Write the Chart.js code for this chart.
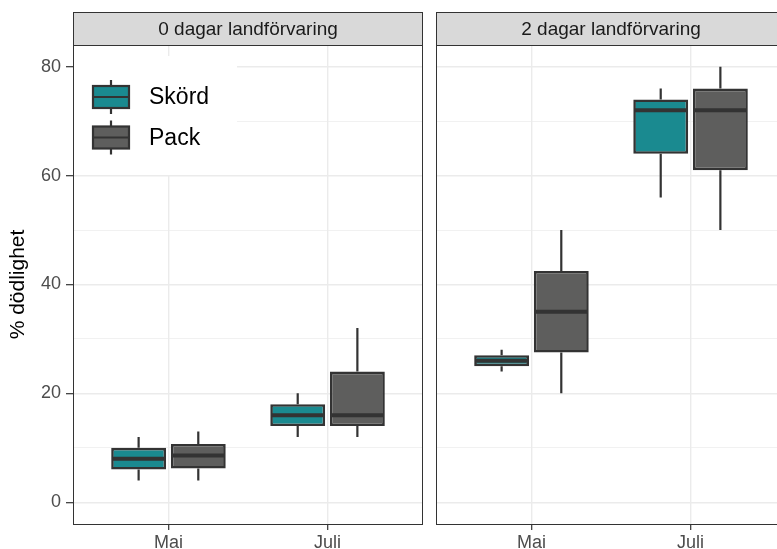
<!DOCTYPE html>
<html>
<head>
<meta charset="utf-8">
<script src="https://cdn.jsdelivr.net/npm/chart.js@4"></script>
<style>
  html, body { margin: 0; padding: 0; background: #fff; overflow: hidden; }
  #wrap { position: relative; width: 777px; height: 549px; overflow: hidden; }
  canvas { position: absolute; top: 0; }
  #left { left: 0; }
  #right { left: 430px; }
</style>
</head>
<body>
<div id="wrap">
  <canvas id="left" width="430" height="549"></canvas>
  <canvas id="right" width="360" height="549"></canvas>
</div>
<script>
const months = ['Mai', 'Juli'];
const panelTitles = ['0 dagar landförvaring', '2 dagar landförvaring'];
const seriesNames = ['Skörd', 'Pack'];
const seriesColors = ['#1A8A90', '#5E5E5D'];
const yTicks = [0, 20, 40, 60, 80];
const yMinor = [10, 30, 50, 70];

// [min, q1, median, q3, max] för Mai och Juli
const skord0 = [[4, 6, 8, 10, 12], [12, 14, 16, 18, 20]];
const pack0 = [[4, 6.2, 8.6, 10.7, 13], [12, 14, 16, 24, 32]];
const skord2 = [[24, 25, 26, 27, 28], [56, 64, 72, 74, 76]];
const pack2 = [[20, 27.5, 35, 42.5, 50], [50, 61, 72, 76, 80]];

const FONT = '"Liberation Sans", Arial, sans-serif';

// ramen runt panelen och den grå rubrikremsan
const panelPlugin = {
    id: 'panelFrame',
    beforeDraw(chart, args, opts) {
        const ctx = chart.ctx;
        const a = chart.chartArea;
        ctx.save();
        ctx.fillStyle = '#fff';
        ctx.fillRect(0, 0, chart.width, chart.height);
        ctx.fillStyle = '#D9D9D9';
        ctx.fillRect(a.left, 12, a.right - a.left, a.top - 12);
        ctx.strokeStyle = '#333';
        ctx.lineWidth = 1;
        ctx.strokeRect(a.left + 0.5, 12.5, a.right - a.left - 1, a.top - 12);
        ctx.fillStyle = '#1A1A1A';
        ctx.font = '19px ' + FONT;
        ctx.textAlign = 'center';
        ctx.textBaseline = 'middle';
        ctx.fillText(opts.title, (a.left + a.right) / 2, (12 + a.top) / 2 + 1);
        ctx.restore();
    },
    afterDraw(chart) {
        const ctx = chart.ctx;
        const a = chart.chartArea;
        ctx.save();
        ctx.strokeStyle = '#333';
        ctx.lineWidth = 1;
        ctx.strokeRect(a.left + 0.5, a.top + 0.5, a.right - a.left - 1, a.bottom - a.top);
        ctx.restore();
    }
};

// morrhår och median ovanpå staplarna
const boxPlugin = {
    id: 'boxWhiskers',
    afterDatasetsDraw(chart) {
        const ctx = chart.ctx;
        const y = chart.scales.y;
        chart.data.datasets.forEach((ds, i) => {
            const meta = chart.getDatasetMeta(i);
            meta.data.forEach((bar, j) => {
                const s = ds.stats[j];
                const half = bar.width / 2 - 1;
                ctx.save();
                ctx.strokeStyle = '#333';
                ctx.lineWidth = 2.2;
                ctx.beginPath();
                ctx.moveTo(bar.x, y.getPixelForValue(s[4]));
                ctx.lineTo(bar.x, y.getPixelForValue(s[3]));
                ctx.moveTo(bar.x, y.getPixelForValue(s[1]));
                ctx.lineTo(bar.x, y.getPixelForValue(s[0]));
                ctx.stroke();
                ctx.lineWidth = 4;
                ctx.beginPath();
                ctx.moveTo(bar.x - half, y.getPixelForValue(s[2]));
                ctx.lineTo(bar.x + half, y.getPixelForValue(s[2]));
                ctx.stroke();
                ctx.restore();
            });
        });
    }
};

// teckenförklaring inne i vänstra panelen
const legendPlugin = {
    id: 'boxLegend',
    beforeDatasetsDraw(chart) {
        const ctx = chart.ctx;
        const a = chart.chartArea;
        ctx.save();
        ctx.fillStyle = '#fff';
        ctx.fillRect(a.left + 1, a.top + 11, 163, 119);
        seriesNames.forEach((name, k) => {
            const cy = a.top + 52 + k * 40.5;
            const x0 = a.left + 20;
            const w = 36;
            ctx.strokeStyle = '#333';
            ctx.lineWidth = 2.2;
            ctx.beginPath();
            ctx.moveTo(x0 + w / 2, cy - 17);
            ctx.lineTo(x0 + w / 2, cy + 17);
            ctx.stroke();
            ctx.fillStyle = seriesColors[k];
            ctx.fillRect(x0, cy - 11, w, 22);
            ctx.strokeRect(x0, cy - 11, w, 22);
            ctx.beginPath();
            ctx.moveTo(x0, cy);
            ctx.lineTo(x0 + w, cy);
            ctx.stroke();
            ctx.fillStyle = '#000';
            ctx.font = '23px ' + FONT;
            ctx.textAlign = 'left';
            ctx.textBaseline = 'middle';
            ctx.fillText(name, a.left + 76, cy + 1);
        });
        ctx.restore();
    }
};

function makeDatasets(summaries) {
    return summaries.map((stats, k) => ({
        label: seriesNames[k],
        data: stats.map((s, i) => ({ x: i + 1, y: [s[1], s[3]] })),
        stats: stats,
        backgroundColor: seriesColors[k],
        borderColor: '#333',
        borderWidth: 2.6,
        borderSkipped: false,
        categoryPercentage: 0.75,
        barPercentage: 0.92
    }));
}

function makeChart(id, summaries, title, showY) {
    const ctx = document.getElementById(id).getContext('2d');
    return new Chart(ctx, {
        type: 'bar',
        data: { datasets: makeDatasets(summaries) },
        plugins: showY ? [panelPlugin, legendPlugin, boxPlugin] : [panelPlugin, boxPlugin],
        options: {
            responsive: false,
            animation: false,
            layout: { padding: showY ? { top: 45, right: 7, left: 0, bottom: 0 } : { top: 45, right: 4, left: 6, bottom: 0 } },
            plugins: {
                legend: { display: false },
                tooltip: { enabled: false },
                panelFrame: { title: title }
            },
            scales: {
                x: {
                    type: 'linear',
                    min: 0.4,
                    max: 2.6,
                    offset: false,
                    afterBuildTicks: (s) => { s.ticks = months.map((m, i) => ({ value: i + 1 })); },
                    afterFit: (s) => { s.height = 25; },
                    grid: { offset: false, color: '#EBEBEB', lineWidth: 1.4, tickColor: '#333', tickLength: 6, tickWidth: 1.2 },
                    border: { display: false },
                    ticks: {
                        callback: (v) => months[Math.round(v) - 1],
                        color: '#4D4D4D',
                        font: { size: 18, family: FONT },
                        padding: 2,
                        maxRotation: 0,
                        autoSkip: false
                    }
                },
                y: {
                    min: -4,
                    max: 84,
                    afterBuildTicks: (s) => {
                        s.ticks = yTicks.concat(yMinor).sort((p, q) => p - q).map(v => ({ value: v }));
                    },
                    afterFit: (s) => { s.width = showY ? 73 : 0; },
                    grid: {
                        color: '#EBEBEB',
                        lineWidth: (c) => yTicks.includes(c.tick.value) ? 1.4 : 0.7,
                        drawTicks: showY,
                        tickColor: (c) => yTicks.includes(c.tick.value) ? '#333' : 'rgba(0,0,0,0)',
                        tickLength: 7,
                        tickWidth: 1.2
                    },
                    border: { display: false },
                    ticks: {
                        display: showY,
                        callback: (v) => yTicks.includes(v) ? v : '',
                        color: '#4D4D4D',
                        font: { size: 18, family: FONT },
                        padding: 5
                    },
                    title: {
                        display: showY,
                        text: '% dödlighet',
                        color: '#000',
                        font: { size: 21, family: FONT },
                        padding: { top: 6, bottom: 0 }
                    }
                }
            }
        }
    });
}

makeChart('left', [skord0, pack0], panelTitles[0], true);
makeChart('right', [skord2, pack2], panelTitles[1], false);
</script>
</body>
</html>
